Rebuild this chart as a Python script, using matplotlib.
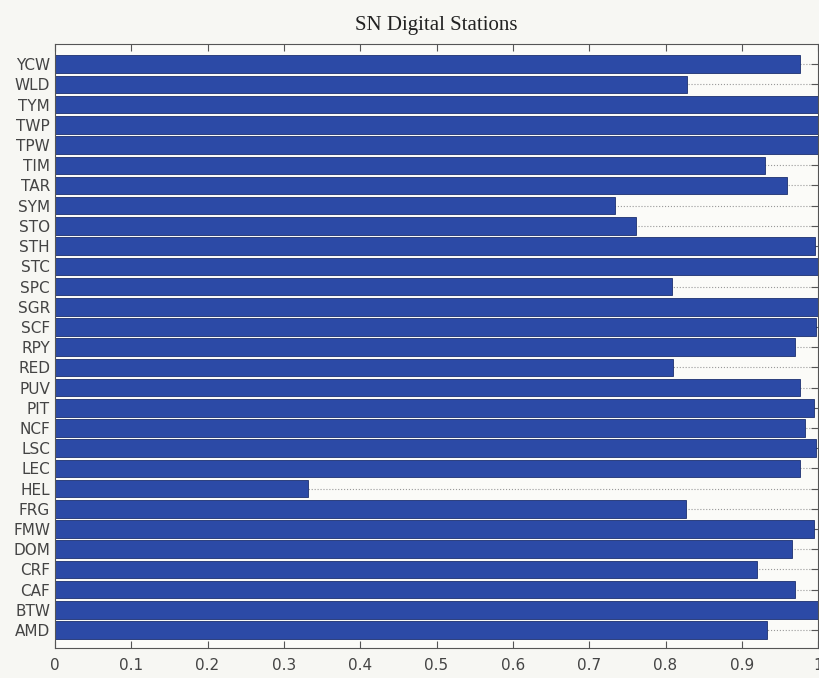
import numpy as np
import matplotlib
matplotlib.use('Agg')
import matplotlib.pyplot as plt

# stations, bottom to top
stations = ['AMD', 'BTW', 'CAF', 'CRF', 'DOM', 'FMW', 'FRG', 'HEL', 'LEC', 'LSC',
            'NCF', 'PIT', 'PUV', 'RED', 'RPY', 'SCF', 'SGR', 'SPC', 'STC', 'STH',
            'STO', 'SYM', 'TAR', 'TIM', 'TPW', 'TWP', 'TYM', 'WLD', 'YCW']
uptime = [0.933, 1.0, 0.970, 0.920, 0.966, 0.995, 0.827, 0.332, 0.976, 0.997,
          0.983, 0.995, 0.976, 0.810, 0.969, 0.997, 1.0, 0.809, 1.0, 0.996,
          0.761, 0.734, 0.959, 0.930, 1.0, 1.0, 1.0, 0.828, 0.976]

fig = plt.figure(figsize=(8.19, 6.78), dpi=100, facecolor='#f7f7f3')
ax = fig.add_axes([0.067, 0.044, 0.932, 0.891])
ax.set_facecolor('#fbfbf8')

y = np.arange(1, len(stations) + 1)
ax.barh(y, uptime, height=0.87, color='#2c4aa6', edgecolor='#1c3070', linewidth=0.6, zorder=2)

ax.set_xlim(0, 1)
ax.set_ylim(0.1, len(stations) + 1)
ax.set_xticks(np.arange(0, 1.01, 0.1))
ax.set_xticklabels(['0', '0.1', '0.2', '0.3', '0.4', '0.5', '0.6', '0.7', '0.8', '0.9', '1'])
ax.set_yticks(y)
ax.set_yticklabels(stations)
ax.yaxis.grid(True, linestyle=':', color='#999999', linewidth=0.8, zorder=0)
ax.tick_params(direction='in', top=True, right=True, labelsize=11, colors='#555555',
               labelcolor='#444444', length=5)
ax.tick_params(axis='x', pad=7)
for s in ax.spines.values():
    s.set_color('#555555')

ax.set_title('SN Digital Stations', family='Liberation Serif', fontsize=15, pad=10, color='#222222')

plt.savefig('out.png', dpi=100, facecolor=fig.get_facecolor())
